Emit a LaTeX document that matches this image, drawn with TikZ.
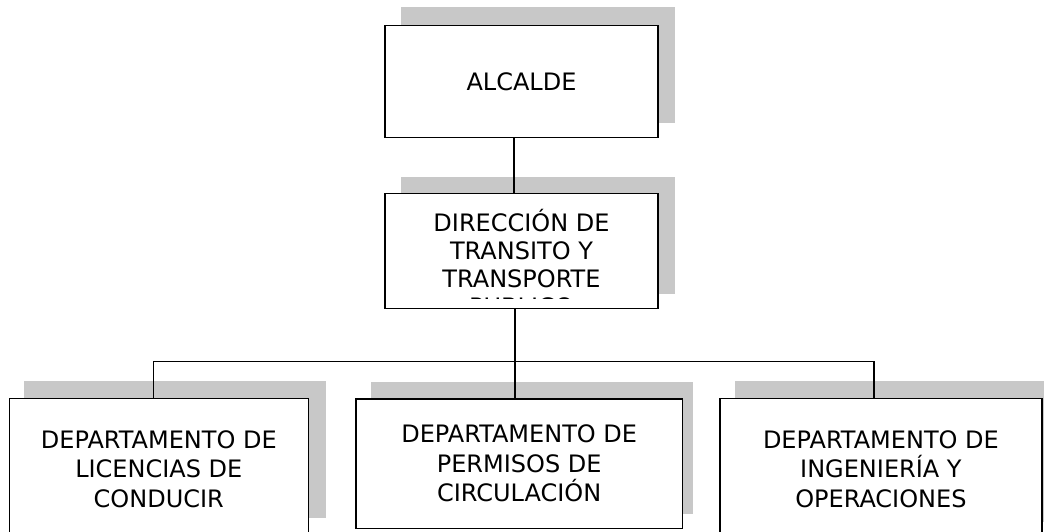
\documentclass[tikz,border=0pt]{standalone}
\usepackage{fontspec}
\setmainfont{DejaVu Sans}
\definecolor{shadowgray}{RGB}{200,200,200}
\pgfdeclarelayer{shadowlayer}
\pgfdeclarelayer{linklayer}
\pgfsetlayers{shadowlayer,linklayer,main}
\begin{document}
\begin{tikzpicture}[x=1pt,y=-1pt,
  box/.style={draw=black, line width=1.6pt, fill=white, rectangle, inner sep=0pt, outer sep=0pt, align=center, font=\fontsize{24}{29.5}\selectfont},
  boxtext/.style={inner sep=0pt, align=center, font=\fontsize{24}{28}\selectfont},
  shade/.style={fill=shadowgray},
  link/.style={draw=black, line width=1.3pt}]
\useasboundingbox (0,0) rectangle (1044,531);

% boxes
\node[box, minimum width=273pt, minimum height=111.7pt] (alc) at (521.5,81.5) {ALCALDE};
\node[box, minimum width=273pt, minimum height=115pt] (dir) at (521.5,250.8) {};
\node[box, minimum width=299pt, minimum height=141.7pt] (lic) at (158.8,469.2) {DEPARTAMENTO DE\\LICENCIAS DE\\CONDUCIR};
\node[box, minimum width=326.3pt, minimum height=129.3pt] (per) at (519.2,463.7) {DEPARTAMENTO DE\\PERMISOS DE\\CIRCULACIÓN};
\node[box, minimum width=321.7pt, minimum height=141.7pt] (ing) at (880.9,469.2) {DEPARTAMENTO DE\\INGENIERÍA Y\\OPERACIONES};

% clipped text of the direction box
\begin{scope}
  \clip (387,195) rectangle (656,298.3);
  \node[boxtext] (dirtext) at (521.5,262.5) {DIRECCIÓN DE\\TRANSITO Y\\TRANSPORTE\\PUBLICO};
\end{scope}

% shadows
\begin{pgfonlayer}{shadowlayer}
  \fill[shade] (401,7.3) rectangle (675.3,122.7);
  \fill[shade] (401,176.7) rectangle (675.3,294);
  \fill[shade] (24,381) rectangle (326,518);
  \fill[shade] (370.7,381.7) rectangle (693.3,514);
  \fill[shade] (735,381) rectangle (1060,522);
\end{pgfonlayer}

% connectors
\coordinate (xa) at (514,0);
\coordinate (xb) at (515,0);
\coordinate (xl) at (153.3,0);
\coordinate (xr) at (874,0);
\coordinate (bus) at (0,361.7);
\begin{pgfonlayer}{linklayer}
  \draw[link] (alc.south -| xa) -- (dir.north -| xa);
  \draw[link] (dir.south -| xb) -- (per.north -| xb);
  \draw[link] (lic.north -| xl) -- (xl |- bus) -- (xr |- bus) -- (ing.north -| xr);
\end{pgfonlayer}
\end{tikzpicture}
\end{document}
